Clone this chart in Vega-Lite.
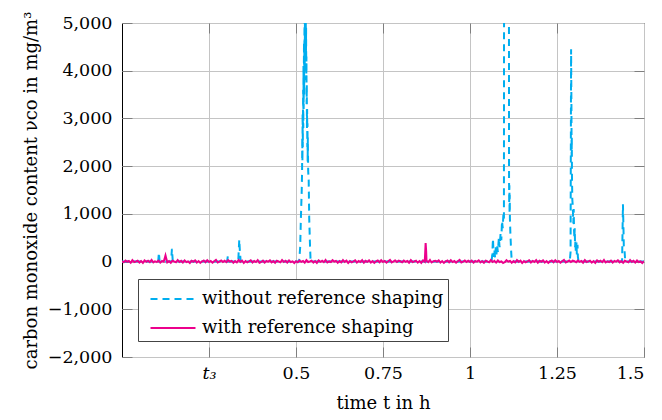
{
"$schema": "https://vega.github.io/schema/vega-lite/v6.json",
"width": 522, "height": 334,
"autosize": {"type": "none"},
"padding": {"left": 122, "top": 23, "right": 18, "bottom": 63},
"config": {
 "view": {"stroke": "#000", "strokeWidth": 1},
 "font": "DejaVu Serif",
 "style": {"guide-label": {"font": "DejaVu Serif"}, "guide-title": {"font": "DejaVu Serif"}},
 "axis": {"labelFont": "DejaVu Serif", "titleFont": "DejaVu Serif", "labelFontSize": 17.5, "titleFontSize": 18, "titleFontWeight": "normal", "labelColor": "#000", "titleColor": "#000", "gridColor": "#c4c4c4", "gridWidth": 1, "gridOpacity": 1, "domain": false, "tickColor": "#7f7f7f", "tickSize": -10, "tickWidth": 1},
 "legend": {"orient": "none", "legendX": 16, "legendY": 256, "strokeColor": "#444", "fillColor": "#fff", "padding": 4, "labelFont": "DejaVu Serif", "labelFontSize": 18, "labelColor": "#000", "symbolType": "M-0.5,0H2.5", "symbolSize": 900, "symbolStrokeWidth": 2, "labelOffset": 28, "labelLimit": 500, "cornerRadius": 0, "rowPadding": 4}
},
"datasets": {
 "blue": [
{"t":0,"v":0},{"t":0.104,"v":0},{"t":0.106,"v":190},{"t":0.108,"v":0},{"t":0.141,"v":0},{"t":0.1435,"v":265},{"t":0.146,"v":0},{"t":0.302,"v":0},{"t":0.304,"v":110},{"t":0.306,"v":0},{"t":0.334,"v":0},{"t":0.337,"v":460},{"t":0.3385,"v":250},{"t":0.341,"v":0},{"t":0.509,"v":0},{"t":0.512,"v":300},{"t":0.514,"v":900},{"t":0.5165,"v":1500},{"t":0.5175,"v":1900},{"t":0.518,"v":2600},{"t":0.5185,"v":2100},{"t":0.519,"v":3100},{"t":0.5195,"v":2400},{"t":0.5205,"v":3600},{"t":0.521,"v":2800},{"t":0.5215,"v":4100},{"t":0.522,"v":3200},{"t":0.5225,"v":3900},{"t":0.523,"v":4600},{"t":0.5235,"v":3500},{"t":0.524,"v":4300},{"t":0.5245,"v":5200},{"t":0.525,"v":4000},{"t":0.5255,"v":4800},{"t":0.526,"v":5400},{"t":0.5265,"v":4400},{"t":0.527,"v":5600},{"t":0.5275,"v":4700},{"t":0.528,"v":5300},{"t":0.5285,"v":4200},{"t":0.529,"v":4900},{"t":0.5295,"v":3800},{"t":0.53,"v":4300},{"t":0.5305,"v":3300},{"t":0.531,"v":3700},{"t":0.5315,"v":2800},{"t":0.532,"v":3200},{"t":0.5325,"v":2400},{"t":0.533,"v":2900},{"t":0.5335,"v":2100},{"t":0.534,"v":2600},{"t":0.535,"v":1900},{"t":0.5365,"v":1700},{"t":0.538,"v":900},{"t":0.54,"v":400},{"t":0.542,"v":0},
{"t":1.062,"v":0},{"t":1.064,"v":150},{"t":1.066,"v":480},{"t":1.068,"v":100},{"t":1.07,"v":250},{"t":1.072,"v":80},{"t":1.074,"v":300},{"t":1.076,"v":150},{"t":1.078,"v":350},{"t":1.08,"v":200},{"t":1.083,"v":500},{"t":1.085,"v":300},{"t":1.088,"v":600},{"t":1.09,"v":450},{"t":1.092,"v":850},{"t":1.094,"v":700},{"t":1.096,"v":1000},{"t":1.0975,"v":900},{"t":1.098,"v":7000},{"t":1.1118,"v":7000},{"t":1.1122,"v":1700},{"t":1.1127,"v":1200},{"t":1.1132,"v":1600},{"t":1.1137,"v":1000},{"t":1.1142,"v":1400},{"t":1.1147,"v":900},{"t":1.116,"v":600},{"t":1.118,"v":250},{"t":1.12,"v":0},
{"t":1.2865,"v":0},{"t":1.289,"v":200},{"t":1.2905,"v":4450},{"t":1.2915,"v":3200},{"t":1.292,"v":2200},{"t":1.2925,"v":2600},{"t":1.293,"v":1800},{"t":1.294,"v":1300},{"t":1.295,"v":1200},{"t":1.296,"v":1000},{"t":1.297,"v":800},{"t":1.298,"v":1100},{"t":1.299,"v":650},{"t":1.3,"v":500},{"t":1.301,"v":700},{"t":1.302,"v":300},{"t":1.303,"v":450},{"t":1.304,"v":200},{"t":1.306,"v":400},{"t":1.307,"v":150},{"t":1.309,"v":350},{"t":1.31,"v":100},{"t":1.312,"v":0},
{"t":1.437,"v":0},{"t":1.4395,"v":1200},{"t":1.441,"v":700},{"t":1.442,"v":300},{"t":1.444,"v":250},{"t":1.446,"v":0},{"t":1.5,"v":0}
 ],
 "pink": [
{"t":0,"v":8},{"t":0.005,"v":-15},{"t":0.01,"v":22},{"t":0.015,"v":-6},{"t":0.02,"v":14},{"t":0.025,"v":-24},{"t":0.03,"v":30},{"t":0.035,"v":-10},{"t":0.04,"v":3},{"t":0.045,"v":18},{"t":0.05,"v":-20},{"t":0.055,"v":11},{"t":0.06,"v":-28},{"t":0.065,"v":25},{"t":0.07,"v":-4},{"t":0.075,"v":16},{"t":0.08,"v":-12},{"t":0.085,"v":33},{"t":0.09,"v":-18},{"t":0.095,"v":6},
{"t":0.1,"v":-9},{"t":0.105,"v":20},{"t":0.11,"v":-22},{"t":0.115,"v":12},{"t":0.12,"v":-3},{"t":0.125,"v":130},{"t":0.13,"v":-16},{"t":0.135,"v":9},{"t":0.14,"v":-26},{"t":0.145,"v":19},{"t":0.15,"v":2},{"t":0.155,"v":-13},{"t":0.16,"v":31},{"t":0.165,"v":-7},{"t":0.17,"v":15},{"t":0.175,"v":-21},{"t":0.18,"v":24},{"t":0.185,"v":-11},{"t":0.19,"v":5},{"t":0.195,"v":-30},
{"t":0.2,"v":17},{"t":0.205,"v":-5},{"t":0.21,"v":26},{"t":0.215,"v":-19},{"t":0.22,"v":10},{"t":0.225,"v":-27},{"t":0.23,"v":4},{"t":0.235,"v":21},{"t":0.24,"v":-14},{"t":0.245,"v":29},{"t":0.25,"v":-8},{"t":0.255,"v":13},{"t":0.26,"v":-23},{"t":0.265,"v":7},{"t":0.27,"v":35},{"t":0.275,"v":-17},{"t":0.28,"v":1},{"t":0.285,"v":23},{"t":0.29,"v":-10},{"t":0.295,"v":18},
{"t":0.3,"v":-12},{"t":0.305,"v":28},{"t":0.31,"v":-2},{"t":0.315,"v":15},{"t":0.32,"v":-25},{"t":0.325,"v":9},{"t":0.33,"v":-18},{"t":0.335,"v":32},{"t":0.34,"v":-6},{"t":0.345,"v":20},{"t":0.35,"v":-29},{"t":0.355,"v":11},{"t":0.36,"v":-15},{"t":0.365,"v":3},{"t":0.37,"v":26},{"t":0.375,"v":-20},{"t":0.38,"v":14},{"t":0.385,"v":-8},{"t":0.39,"v":30},{"t":0.395,"v":-24},
{"t":0.4,"v":-9},{"t":0.405,"v":20},{"t":0.41,"v":-22},{"t":0.415,"v":12},{"t":0.42,"v":-3},{"t":0.425,"v":27},{"t":0.43,"v":-16},{"t":0.435,"v":9},{"t":0.44,"v":-26},{"t":0.445,"v":19},{"t":0.45,"v":2},{"t":0.455,"v":-13},{"t":0.46,"v":31},{"t":0.465,"v":-7},{"t":0.47,"v":15},{"t":0.475,"v":-21},{"t":0.48,"v":24},{"t":0.485,"v":-11},{"t":0.49,"v":5},{"t":0.495,"v":-30},
{"t":0.5,"v":8},{"t":0.505,"v":-15},{"t":0.51,"v":22},{"t":0.515,"v":-6},{"t":0.52,"v":14},{"t":0.525,"v":-24},{"t":0.53,"v":30},{"t":0.535,"v":-10},{"t":0.54,"v":3},{"t":0.545,"v":18},{"t":0.55,"v":-20},{"t":0.555,"v":11},{"t":0.56,"v":-28},{"t":0.565,"v":25},{"t":0.57,"v":-4},{"t":0.575,"v":16},{"t":0.58,"v":-12},{"t":0.585,"v":33},{"t":0.59,"v":-18},{"t":0.595,"v":6},
{"t":0.6,"v":-12},{"t":0.605,"v":28},{"t":0.61,"v":-2},{"t":0.615,"v":15},{"t":0.62,"v":-25},{"t":0.625,"v":9},{"t":0.63,"v":-18},{"t":0.635,"v":32},{"t":0.64,"v":-6},{"t":0.645,"v":20},{"t":0.65,"v":-29},{"t":0.655,"v":11},{"t":0.66,"v":-15},{"t":0.665,"v":3},{"t":0.67,"v":26},{"t":0.675,"v":-20},{"t":0.68,"v":14},{"t":0.685,"v":-8},{"t":0.69,"v":30},{"t":0.695,"v":-24},
{"t":0.7,"v":17},{"t":0.705,"v":-5},{"t":0.71,"v":26},{"t":0.715,"v":-19},{"t":0.72,"v":10},{"t":0.725,"v":-27},{"t":0.73,"v":4},{"t":0.735,"v":21},{"t":0.74,"v":-14},{"t":0.745,"v":29},{"t":0.75,"v":-8},{"t":0.755,"v":13},{"t":0.76,"v":-23},{"t":0.765,"v":7},{"t":0.77,"v":35},{"t":0.775,"v":-17},{"t":0.78,"v":1},{"t":0.785,"v":23},{"t":0.79,"v":-10},{"t":0.795,"v":18},
{"t":0.8,"v":8},{"t":0.805,"v":-15},{"t":0.81,"v":22},{"t":0.815,"v":-6},{"t":0.82,"v":14},{"t":0.825,"v":-24},{"t":0.83,"v":30},{"t":0.835,"v":-10},{"t":0.84,"v":3},{"t":0.845,"v":18},{"t":0.85,"v":-20},{"t":0.855,"v":11},{"t":0.86,"v":-28},{"t":0.865,"v":25},{"t":0.87,"v":-4},{"t":0.8725,"v":390},{"t":0.874,"v":220},{"t":0.875,"v":16},{"t":0.88,"v":-12},{"t":0.885,"v":33},{"t":0.89,"v":-18},{"t":0.895,"v":6},
{"t":0.9,"v":17},{"t":0.905,"v":-5},{"t":0.91,"v":26},{"t":0.915,"v":-19},{"t":0.92,"v":10},{"t":0.925,"v":-27},{"t":0.93,"v":4},{"t":0.935,"v":21},{"t":0.94,"v":-14},{"t":0.945,"v":29},{"t":0.95,"v":-8},{"t":0.955,"v":13},{"t":0.96,"v":-23},{"t":0.965,"v":7},{"t":0.97,"v":35},{"t":0.975,"v":-17},{"t":0.98,"v":1},{"t":0.985,"v":23},{"t":0.99,"v":-10},{"t":0.995,"v":18},
{"t":1,"v":-9},{"t":1.005,"v":20},{"t":1.01,"v":-22},{"t":1.015,"v":12},{"t":1.02,"v":-3},{"t":1.025,"v":27},{"t":1.03,"v":-16},{"t":1.035,"v":9},{"t":1.04,"v":-26},{"t":1.045,"v":19},{"t":1.05,"v":2},{"t":1.055,"v":-13},{"t":1.06,"v":31},{"t":1.065,"v":-7},{"t":1.07,"v":15},{"t":1.075,"v":-21},{"t":1.08,"v":24},{"t":1.085,"v":-11},{"t":1.09,"v":5},{"t":1.095,"v":-30},
{"t":1.1,"v":-12},{"t":1.105,"v":28},{"t":1.11,"v":-2},{"t":1.115,"v":15},{"t":1.12,"v":-25},{"t":1.125,"v":9},{"t":1.13,"v":-18},{"t":1.135,"v":32},{"t":1.14,"v":-6},{"t":1.145,"v":20},{"t":1.15,"v":-29},{"t":1.155,"v":11},{"t":1.16,"v":-15},{"t":1.165,"v":3},{"t":1.17,"v":26},{"t":1.175,"v":-20},{"t":1.18,"v":14},{"t":1.185,"v":-8},{"t":1.19,"v":30},{"t":1.195,"v":-24},
{"t":1.2,"v":17},{"t":1.205,"v":-5},{"t":1.21,"v":26},{"t":1.215,"v":-19},{"t":1.22,"v":10},{"t":1.225,"v":-27},{"t":1.23,"v":4},{"t":1.235,"v":21},{"t":1.24,"v":-14},{"t":1.245,"v":29},{"t":1.25,"v":-8},{"t":1.255,"v":13},{"t":1.26,"v":-23},{"t":1.265,"v":7},{"t":1.27,"v":35},{"t":1.275,"v":-17},{"t":1.28,"v":1},{"t":1.285,"v":23},{"t":1.29,"v":-10},{"t":1.295,"v":18},
{"t":1.3,"v":8},{"t":1.305,"v":-15},{"t":1.31,"v":22},{"t":1.315,"v":-6},{"t":1.32,"v":14},{"t":1.325,"v":-24},{"t":1.33,"v":30},{"t":1.335,"v":-10},{"t":1.34,"v":3},{"t":1.345,"v":18},{"t":1.35,"v":-20},{"t":1.355,"v":11},{"t":1.36,"v":-28},{"t":1.365,"v":25},{"t":1.37,"v":-4},{"t":1.375,"v":16},{"t":1.38,"v":-12},{"t":1.385,"v":33},{"t":1.39,"v":-18},{"t":1.395,"v":6},
{"t":1.4,"v":-9},{"t":1.405,"v":20},{"t":1.41,"v":-22},{"t":1.415,"v":12},{"t":1.42,"v":-3},{"t":1.425,"v":27},{"t":1.43,"v":-16},{"t":1.435,"v":9},{"t":1.44,"v":-26},{"t":1.445,"v":19},{"t":1.45,"v":2},{"t":1.455,"v":-13},{"t":1.46,"v":31},{"t":1.465,"v":-7},{"t":1.47,"v":15},{"t":1.475,"v":-21},{"t":1.48,"v":24},{"t":1.485,"v":-11},{"t":1.49,"v":5},{"t":1.495,"v":-30},
{"t":1.5,"v":10}
 ]
},
"layer": [
 {
  "data": {"name": "blue"},
  "mark": {"type": "line", "clip": true, "strokeWidth": 2},
  "encoding": {
   "x": {"field": "t", "type": "quantitative", "scale": {"domain": [0, 1.5], "nice": false, "zero": false},
     "axis": {"values": [0.25, 0.5, 0.75, 1, 1.25, 1.5], "labelFont": "DejaVu Serif", "labelExpr": "datum.value == 0.25 ? 't₃' : format(datum.value, '~g')", "labelFontStyle": {"condition": {"test": "datum.value == 0.25", "value": "italic"}, "value": "normal"}, "title": "time t in h", "labelPadding": 17, "titlePadding": 13}},
   "y": {"field": "v", "type": "quantitative", "scale": {"domain": [-2000, 5000], "nice": false},
     "axis": {"values": [-2000, -1000, 0, 1000, 2000, 3000, 4000, 5000], "labelFont": "DejaVu Serif", "labelExpr": "format(datum.value, ',')", "title": "carbon monoxide content νco in mg/m³", "labelPadding": 20, "titlePadding": 7}},
   "color": {"datum": "without reference shaping", "type": "nominal", "scale": {"domain": ["without reference shaping", "with reference shaping"], "range": ["#00AEEF", "#EC008C"]}, "legend": {"title": null}},
   "strokeDash": {"datum": "without reference shaping", "type": "nominal", "scale": {"domain": ["without reference shaping", "with reference shaping"], "range": [[7, 5], [1, 0]]}, "legend": {"title": null}}
  }
 },
 {
  "data": {"name": "pink"},
  "mark": {"type": "line", "clip": true, "strokeWidth": 2},
  "encoding": {
   "x": {"field": "t", "type": "quantitative", "axis": {"orient": "top", "values": [0.25, 0.5, 0.75, 1, 1.25], "labels": false, "grid": false, "title": null}},
   "y": {"field": "v", "type": "quantitative", "axis": {"orient": "right", "values": [-1000, 0, 1000, 2000, 3000, 4000], "labels": false, "grid": false, "title": null}},
   "color": {"datum": "with reference shaping", "type": "nominal"},
   "strokeDash": {"datum": "with reference shaping", "type": "nominal"}
  }
 }
],
"resolve": {"axis": {"x": "independent", "y": "independent"}}
}
